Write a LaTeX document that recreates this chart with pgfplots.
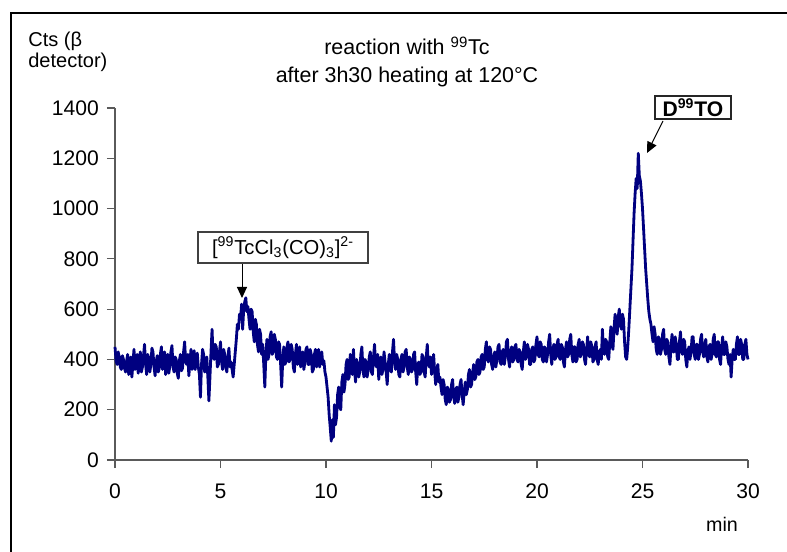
\documentclass[border=0pt]{standalone}
\usepackage{fontspec}
\setmainfont{Liberation Sans}
\usepackage{pgfplots}
\pgfplotsset{compat=1.18}
\usetikzlibrary{arrows.meta}
\definecolor{trace}{RGB}{0,0,128}
\definecolor{axisgrey}{RGB}{90,90,90}

\begin{document}
\begin{tikzpicture}
\path[use as bounding box] (0,0) rectangle (15.74,-11.04);
\draw[line width=0.03cm, black] (0.22,-11.2) -- (0.22,-0.26) -- (15.9,-0.26);

\begin{axis}[
  at={(2.30cm,-9.20cm)}, anchor=south west,
  scale only axis, width=12.66cm, height=7.04cm,
  xmin=0, xmax=30, ymin=0, ymax=1400,
  axis lines=left,
  axis line style={-, draw=axisgrey, line width=0.6pt},
  xtick={0,5,...,30}, ytick={0,200,...,1400},
  tick align=outside, major tick length=0.16cm,
  tick style={draw=axisgrey, line width=0.6pt},
  minor tick num=0,
  /pgf/number format/assume math mode=true,
  /pgf/number format/set thousands separator={},
  ticklabel style={font=\fontsize{12}{14}\selectfont, text=black},
  xticklabel style={yshift=-0.2cm},
  yticklabel style={xshift=-0.04cm},
  clip=false,
]
\addplot[color=trace, line width=1.6pt, line join=round, no markers] coordinates {
(0,450)(0.05,395)(0.1,380)(0.15,430)(0.2,410)(0.25,370)(0.3,360)(0.35,415)(0.4,400)(0.45,365)(0.5,350)(0.55,395)(0.6,420)(0.65,340)(0.7,375)(0.75,410)(0.8,330)(0.85,385)(0.9,440)(0.95,360)
(1.0,390)(1.05,420)(1.1,345)(1.15,395)(1.2,430)(1.25,350)(1.3,370)(1.35,415)(1.4,460)(1.45,380)(1.5,340)(1.55,420)(1.6,405)(1.65,350)(1.7,380)(1.75,445)(1.8,430)(1.85,370)(1.9,335)(1.95,390)
(2.0,415)(2.05,350)(2.1,365)(2.15,420)(2.2,450)(2.25,360)(2.3,390)(2.35,430)(2.4,340)(2.45,385)(2.5,420)(2.55,345)(2.6,375)(2.65,430)(2.7,455)(2.75,370)(2.8,350)(2.85,410)(2.9,400)(2.95,345)
(3.0,325)(3.05,395)(3.1,420)(3.15,355)(3.2,365)(3.25,430)(3.3,470)(3.35,390)(3.4,380)(3.45,420)(3.5,335)(3.55,385)(3.6,440)(3.65,360)(3.7,390)(3.75,435)(3.8,360)(3.85,400)(3.9,425)(3.95,370)
(4.0,340)(4.05,250)(4.1,380)(4.15,440)(4.2,420)(4.25,350)(4.3,360)(4.35,410)(4.4,330)(4.45,235)(4.5,330)(4.55,430)(4.6,520)(4.65,410)(4.7,400)(4.75,460)(4.8,450)(4.85,370)(4.9,380)(4.95,430)
(5.0,470)(5.05,390)(5.1,360)(5.15,440)(5.2,420)(5.25,370)(5.3,350)(5.35,410)(5.4,445)(5.45,370)(5.5,390)(5.55,360)(5.6,330)(5.65,380)(5.7,430)(5.75,480)(5.8,540)(5.85,520)(5.9,580)(5.95,560)
(6.0,620)(6.05,520)(6.1,600)(6.15,630)(6.2,645)(6.25,590)(6.3,610)(6.35,560)(6.4,520)(6.45,600)(6.5,590)(6.55,510)(6.6,470)(6.65,560)(6.7,540)(6.75,460)(6.8,430)(6.85,520)(6.9,500)(6.95,420)
(7.0,460)(7.05,380)(7.1,290)(7.15,420)(7.2,480)(7.25,400)(7.3,420)(7.35,490)(7.4,510)(7.45,420)(7.5,430)(7.55,500)(7.6,480)(7.65,410)(7.7,400)(7.75,470)(7.8,460)(7.85,380)(7.9,290)(7.95,400)
(8.0,450)(8.05,380)(8.1,390)(8.15,450)(8.2,470)(8.25,390)(8.3,400)(8.35,460)(8.4,440)(8.45,370)(8.5,350)(8.55,420)(8.6,460)(8.65,380)(8.7,410)(8.75,450)(8.8,370)(8.85,410)(8.9,430)(8.95,360)
(9.0,390)(9.05,440)(9.1,450)(9.15,380)(9.2,380)(9.25,440)(9.3,420)(9.35,350)(9.4,360)(9.45,420)(9.5,440)(9.55,370)(9.6,400)(9.65,440)(9.7,370)(9.75,410)(9.8,430)(9.85,380)(9.9,395)(9.95,350)
(10.0,330)(10.05,290)(10.1,250)(10.15,180)(10.2,130)(10.25,75)(10.3,160)(10.35,90)(10.4,220)(10.45,140)(10.5,170)(10.55,260)(10.6,290)(10.65,210)(10.7,200)(10.75,310)(10.8,340)(10.85,270)(10.9,300)(10.95,380)
(11.0,400)(11.05,320)(11.1,330)(11.15,420)(11.2,370)(11.25,340)(11.3,440)(11.35,360)(11.4,310)(11.45,400)(11.5,380)(11.55,330)(11.6,350)(11.65,420)(11.7,450)(11.75,360)(11.8,330)(11.85,400)(11.9,390)(11.95,330)
(12.0,360)(12.05,410)(12.1,430)(12.15,350)(12.2,340)(12.25,410)(12.3,460)(12.35,380)(12.4,370)(12.45,420)(12.5,320)(12.55,380)(12.6,410)(12.65,340)(12.7,360)(12.75,430)(12.8,390)(12.85,350)(12.9,300)(12.95,380)
(13.0,420)(13.05,360)(13.1,350)(13.15,430)(13.2,480)(13.25,390)(13.3,360)(13.35,420)(13.4,400)(13.45,340)(13.5,330)(13.55,400)(13.6,420)(13.65,350)(13.7,370)(13.75,430)(13.8,440)(13.85,370)(13.9,340)(13.95,410)
(14.0,400)(14.05,350)(14.1,360)(14.15,420)(14.2,430)(14.25,350)(14.3,300)(14.35,380)(14.4,390)(14.45,340)(14.5,350)(14.55,420)(14.6,410)(14.65,350)(14.7,330)(14.75,410)(14.8,460)(14.85,380)(14.9,370)(14.95,410)
(15.0,340)(15.05,380)(15.1,420)(15.15,350)(15.2,300)(15.25,360)(15.3,380)(15.35,310)(15.4,330)(15.45,290)(15.5,260)(15.55,320)(15.6,300)(15.65,240)(15.7,220)(15.75,290)(15.8,280)(15.85,230)(15.9,240)(15.95,300)
(16.0,320)(16.05,250)(16.1,225)(16.15,280)(16.2,290)(16.25,230)(16.3,250)(16.35,300)(16.4,320)(16.45,260)(16.5,220)(16.55,270)(16.6,310)(16.65,260)(16.7,280)(16.75,340)(16.8,360)(16.85,290)(16.9,300)(16.95,350)
(17.0,380)(17.05,320)(17.1,330)(17.15,390)(17.2,400)(17.25,340)(17.3,350)(17.35,410)(17.4,420)(17.45,360)(17.5,370)(17.55,440)(17.6,470)(17.65,400)(17.7,390)(17.75,450)(17.8,440)(17.85,380)(17.9,360)(17.95,410)
(18.0,430)(18.05,370)(18.1,400)(18.15,450)(18.2,460)(18.25,390)(18.3,380)(18.35,430)(18.4,440)(18.45,380)(18.5,410)(18.55,470)(18.6,480)(18.65,400)(18.7,370)(18.75,430)(18.8,450)(18.85,390)(18.9,400)(18.95,450)
(19.0,460)(19.05,400)(19.1,390)(19.15,440)(19.2,430)(19.25,380)(19.3,360)(19.35,430)(19.4,470)(19.45,400)(19.5,410)(19.55,460)(19.6,440)(19.65,380)(19.7,380)(19.75,440)(19.8,450)(19.85,390)(19.9,400)(19.95,460)
(20.0,490)(20.05,420)(20.1,410)(20.15,470)(20.2,460)(20.25,400)(20.3,390)(20.35,450)(20.4,440)(20.45,390)(20.5,420)(20.55,470)(20.6,500)(20.65,420)(20.7,380)(20.75,440)(20.8,460)(20.85,400)(20.9,410)(20.95,460)
(21.0,480)(21.05,410)(21.1,400)(21.15,460)(21.2,450)(21.25,390)(21.3,370)(21.35,440)(21.4,470)(21.45,410)(21.5,420)(21.55,480)(21.6,500)(21.65,420)(21.7,390)(21.75,450)(21.8,450)(21.85,390)(21.9,400)(21.95,460)
(22.0,480)(22.05,410)(22.1,420)(22.15,470)(22.2,460)(22.25,400)(22.3,380)(22.35,440)(22.4,490)(22.45,420)(22.5,410)(22.55,470)(22.6,450)(22.65,390)(22.7,400)(22.75,450)(22.8,470)(22.85,400)(22.9,380)(22.95,430)
(23.0,440)(23.05,400)(23.1,520)(23.15,440)(23.2,420)(23.25,480)(23.3,470)(23.35,410)(23.4,400)(23.45,470)(23.5,530)(23.55,460)(23.6,440)(23.65,520)(23.7,580)(23.75,520)(23.8,500)(23.85,570)(23.9,600)(23.95,540)
(24.0,520)(24.05,580)(24.1,560)(24.15,470)(24.2,410)(24.25,400)(24.3,450)(24.35,520)(24.4,600)(24.45,680)(24.5,760)(24.55,870)(24.6,980)(24.65,1060)(24.7,1120)(24.75,1080)(24.8,1220)(24.85,1130)(24.9,1110)(24.95,1060)
(25.0,1000)(25.05,920)(25.1,840)(25.15,760)(25.2,700)(25.25,640)(25.3,590)(25.35,560)(25.4,540)(25.45,500)(25.5,470)(25.55,530)(25.6,500)(25.65,440)(25.7,420)(25.75,490)(25.8,480)(25.85,420)(25.9,440)(25.95,500)
(26.0,520)(26.05,440)(26.1,420)(26.15,480)(26.2,470)(26.25,410)(26.3,380)(26.35,450)(26.4,500)(26.45,430)(26.5,430)(26.55,490)(26.6,460)(26.65,400)(26.7,400)(26.75,470)(26.8,510)(26.85,430)(26.9,420)(26.95,480)
(27.0,470)(27.05,400)(27.1,370)(27.15,430)(27.2,450)(27.25,400)(27.3,430)(27.35,490)(27.4,490)(27.45,420)(27.5,400)(27.55,460)(27.6,460)(27.65,400)(27.7,420)(27.75,480)(27.8,500)(27.85,430)(27.9,410)(27.95,460)
(28.0,480)(28.05,410)(28.1,390)(28.15,450)(28.2,460)(28.25,400)(28.3,420)(28.35,480)(28.4,500)(28.45,420)(28.5,410)(28.55,470)(28.6,470)(28.65,400)(28.7,380)(28.75,450)(28.8,490)(28.85,420)(28.9,420)(28.95,470)
(29.0,450)(29.05,400)(29.1,380)(29.15,420)(29.2,330)(29.25,400)(29.3,440)(29.35,400)(29.4,400)(29.45,460)(29.5,490)(29.55,420)(29.6,420)(29.65,480)(29.7,460)(29.75,400)(29.8,400)(29.85,460)(29.9,480)(29.95,420)
(30.0,400)
};
\end{axis}

% axis titles
\node[anchor=base west, font=\fontsize{11.4}{13}\selectfont, inner sep=0] at (0.56,-0.94) {Cts (β};
\node[anchor=base west, font=\fontsize{11.4}{13}\selectfont, inner sep=0] at (0.56,-1.36) {detector)};
\node[anchor=base, font=\fontsize{11.2}{13}\selectfont, inner sep=0] at (14.44,-10.63) {min};

% title
\node[anchor=base, font=\fontsize{12.2}{14}\selectfont, inner sep=0] at (8.14,-1.10) {reaction with \textsuperscript{99}Tc};
\node[anchor=base, font=\fontsize{12.2}{14}\selectfont, inner sep=0] at (8.14,-1.66) {after 3h30 heating at 120°C};

% annotations
\draw[line width=0.55pt, -{Triangle[length=0.22cm, width=0.2cm]}] (4.84,-5.26) -- (4.84,-5.96);
\node[draw=black!75, fill=white, line width=0.6pt, minimum width=3.4cm, minimum height=0.62cm, inner sep=0,
      font=\fontsize{11.5}{13}\selectfont] at (5.66,-4.95)
      {[\textsuperscript{99}TcCl\textsubscript{3}(CO)\textsubscript{3}]\textsuperscript{2-}};

\draw[line width=0.55pt, -{Triangle[length=0.22cm, width=0.2cm]}] (13.26,-2.42) -- (12.94,-3.06);
\node[draw=black!85, fill=white, line width=0.6pt, minimum width=1.52cm, minimum height=0.46cm, inner sep=0,
      font=\fontsize{12}{14}\selectfont\bfseries] at (13.86,-2.15)
      {D\textsuperscript{99}TO};
\end{tikzpicture}
\end{document}
